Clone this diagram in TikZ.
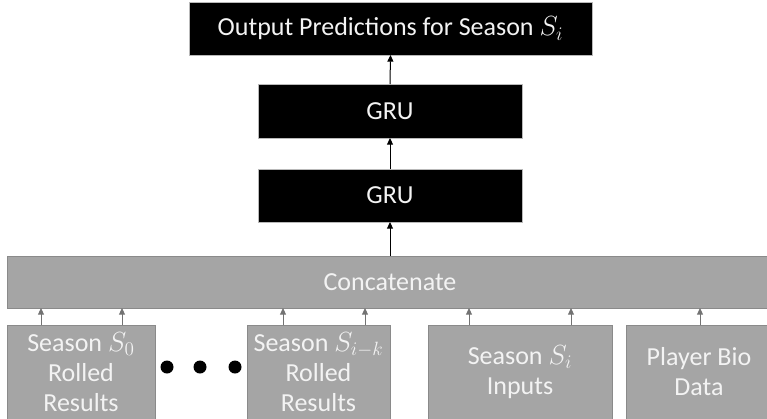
\documentclass[tikz,border=0pt]{standalone}
\usepackage{fontspec}
\setmainfont{Carlito}
\usetikzlibrary{arrows.meta}
\definecolor{boxgray}{RGB}{165,165,165}
\definecolor{edgegray}{RGB}{138,138,138}
\definecolor{arrowgray}{RGB}{115,115,115}
\definecolor{labelwhite}{RGB}{243,243,243}

\begin{document}
\begin{tikzpicture}[x=0.75pt,y=0.75pt,yscale=-1,xscale=1,
    layer/.style={fill=black,draw=gray!55,line width=0.75pt,text=labelwhite,inner sep=0pt,outer sep=0pt,font=\fontsize{19.5}{23}\selectfont,align=center},
    input/.style={fill=boxgray,draw=edgegray,line width=0.75pt,text=labelwhite,inner sep=0pt,outer sep=0pt,font=\fontsize{19.5}{22.5}\selectfont,align=center},
    flow/.style={-{Triangle[width=4.5pt,length=5pt]},line width=0.75pt},
    feed/.style={flow,draw=arrowgray,fill=arrowgray},
    dot/.style={circle,fill=black,inner sep=0pt,minimum size=9.75pt}]
    \useasboundingbox (0,0) rectangle (767,418);

    %Shape: network layers
    \node [layer,minimum width=302.25pt,minimum height=39.75pt] (out) at (390.5,28.5) {Output Predictions for Season $S_i$};
    \node [layer,minimum width=198pt,minimum height=40.5pt] (gru2) at (390,111) {GRU};
    \node [layer,minimum width=198pt,minimum height=39.75pt] (gru1) at (390,195.5) {GRU};

    %Shape: concatenation and inputs
    \node [input,minimum width=574.5pt,minimum height=39pt] (concat) at (390,282) {Concatenate};
    \node [input,minimum width=111pt,minimum height=70.5pt] (s0) at (81,372) {Season $S_0$\\Rolled\\Results};
    \node [input,minimum width=107.25pt,minimum height=70.5pt] (sik) at (318.5,372) {Season $S_{i-k}$\\Rolled\\Results};
    \node [input,minimum width=138pt,minimum height=70.5pt] (si) at (520,372) {Season $S_i$\\Inputs};
    \node [input,minimum width=109.5pt,minimum height=70.5pt] (bio) at (699,372) {Player Bio\\Data};

    %Shape: ellipsis between rolled seasons
    \node [dot] (dot1) at (167,367) {};
    \node [dot] (dot2) at (200,367) {};
    \node [dot] (dot3) at (235,367) {};

    %Straight Lines: inputs into concatenation
    \foreach \src/\dx in {s0/34, s0/115, sik/36, sik/118, si/41, si/143, bio/74}
        \draw [feed] ([xshift=\dx*0.75pt]\src.north west) -- ([xshift=\dx*0.75pt]\src.north west |- concat.south);

    %Straight Lines: through the layers
    \draw [flow] (concat.north) -- (gru1.south);
    \draw [flow] (gru1.north) -- (gru2.south);
    \draw [flow] (gru2.north) -- (out.south);

\end{tikzpicture}
\end{document}
